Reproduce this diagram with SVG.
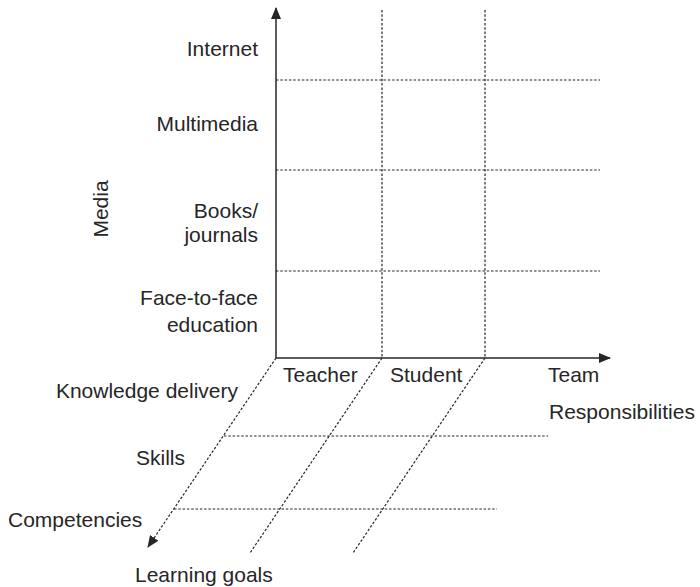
<svg xmlns="http://www.w3.org/2000/svg" width="700" height="587" viewBox="0 0 700 587">
  <style>
    text { font-family: "Liberation Sans", Arial, sans-serif; font-size: 21px; fill: #262626; }
    .r { text-anchor: end; }
    .axis { stroke: #262626; stroke-width: 1.5; fill: none; }
    .grid { stroke: #262626; stroke-width: 1.2; stroke-dasharray: 2.5 1.8; fill: none; }
  </style>
  <defs>
    <marker id="arrow" viewBox="0 0 12 10" refX="11" refY="5" markerWidth="12" markerHeight="10" markerUnits="userSpaceOnUse" orient="auto">
      <path d="M0,0 L12,5 L0,10 Z" fill="#262626"/>
    </marker>
  </defs>
  <rect width="700" height="587" fill="#ffffff"/>

  <g id="connectors">
    <!-- media grid -->
    <line class="grid" x1="382" y1="10" x2="382" y2="358"/>
    <line class="grid" x1="485" y1="10" x2="485" y2="358"/>
    <line class="grid" x1="276" y1="80" x2="600" y2="80"/>
    <line class="grid" x1="276" y1="170" x2="600" y2="170"/>
    <line class="grid" x1="276" y1="271" x2="600" y2="271"/>
    <!-- learning goals grid -->
    <line class="grid" x1="382" y1="358" x2="250" y2="553"/>
    <line class="grid" x1="485" y1="358" x2="353" y2="553"/>
    <line class="grid" x1="224" y1="436" x2="548" y2="436"/>
    <line class="grid" x1="174" y1="509" x2="497" y2="509"/>
    <line class="grid" x1="276" y1="358" x2="148" y2="547" marker-end="url(#arrow)"/>
    <!-- axes -->
    <line class="axis" x1="276" y1="358" x2="276" y2="8" marker-end="url(#arrow)"/>
    <line class="axis" x1="276" y1="358" x2="610" y2="358" marker-end="url(#arrow)"/>
  </g>

  <g id="media-labels">
    <text id="internet" class="r" x="258" y="56">Internet</text>
    <text id="multimedia" class="r" x="258" y="131">Multimedia</text>
    <text id="books" class="r" x="258" y="218">Books/</text>
    <text class="r" x="258" y="242">journals</text>
    <text id="face" class="r" x="258" y="305">Face-to-face</text>
    <text class="r" x="258" y="332">education</text>
    <text id="media" x="108" y="209" text-anchor="middle" transform="rotate(-90 108 209)">Media</text>
  </g>

  <g id="responsibility-labels">
    <text id="teacher" x="283" y="382">Teacher</text>
    <text id="student" x="390" y="382">Student</text>
    <text id="team" x="548" y="382">Team</text>
    <text id="responsibilities" x="549" y="419">Responsibilities</text>
  </g>

  <g id="goal-labels">
    <text id="knowledge" class="r" x="238" y="398">Knowledge delivery</text>
    <text id="skills" x="136" y="465">Skills</text>
    <text id="competencies" x="8" y="527">Competencies</text>
    <text id="learning-goals" x="135" y="582">Learning goals</text>
  </g>
</svg>
